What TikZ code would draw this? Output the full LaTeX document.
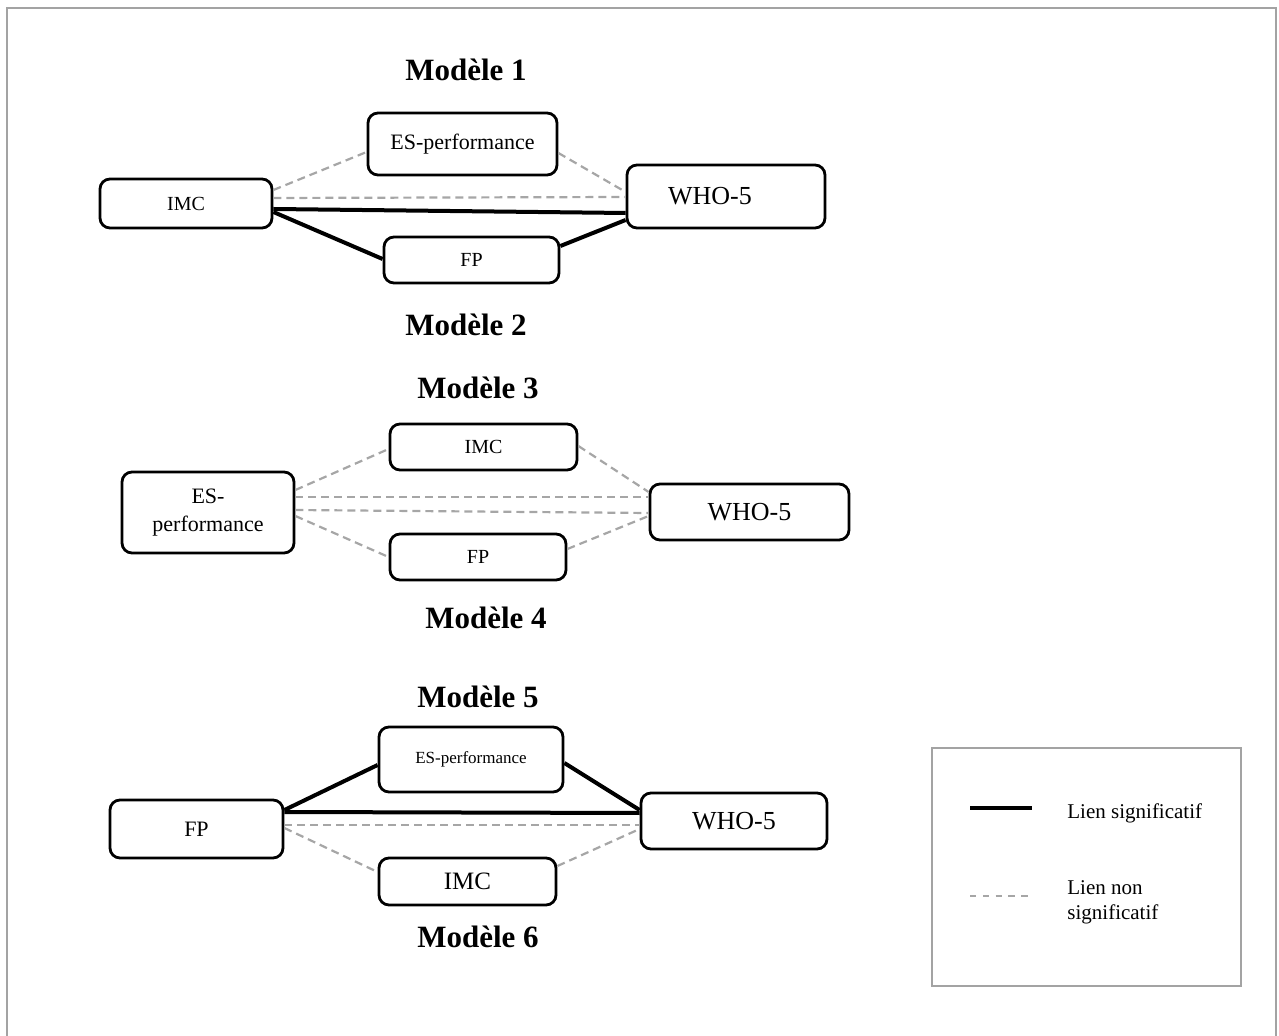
\documentclass[tikz,border=0pt]{standalone}
\usepackage{fontspec}
\setmainfont{Liberation Serif}
\usetikzlibrary{calc}
\definecolor{lgray}{HTML}{A6A6A6}
\definecolor{bgray}{HTML}{A3A3A3}
\newcommand\myfs[2]{\fontsize{#1}{#2}\selectfont}
\begin{document}
\begin{tikzpicture}[x=0.5pt,y=-0.5pt,
  box/.style={draw=black, line width=1.4pt, rounded corners=5pt, inner sep=0pt, align=center},
  sig/.style={line width=2pt, black},
  nsig/.style={line width=1.1pt, lgray, dash pattern=on 4pt off 2.5pt},
  ttl/.style={font=\myfs{15.5}{18}\bfseries, inner sep=0pt},
  lgtxt/.style={anchor=west, inner sep=0pt, align=left, font=\myfs{10.5}{12.5}}]
\useasboundingbox (0,0) rectangle (1279,1036);
% outer frame
\draw[bgray, line width=1.3pt] (7,1040) -- (7,8) -- (1276,8) -- (1276,1040);

% titles
\node[ttl] (t1) at (466,70) {Modèle 1};
\node[ttl] (t2) at (466,325) {Modèle 2};
\node[ttl] (t3) at (478,388) {Modèle 3};
\node[ttl] (t4) at (486,618) {Modèle 4};
\node[ttl] (t5) at (478,697) {Modèle 5};
\node[ttl] (t6) at (478,937) {Modèle 6};

% Model 1
\node[box, minimum width=94.5pt, minimum height=31pt, font=\myfs{11}{13}] (m1es) at (462.5,144) {ES-performance};
\node[box, minimum width=86pt, minimum height=24.5pt, font=\myfs{10}{12}] (m1imc) at (186,203.5) {IMC};
\node[box, minimum width=99pt, minimum height=31.5pt, font=\myfs{13}{15}] (m1who) at (726,196.5) {\hspace*{-16pt}WHO-5};
\node[box, minimum width=87.5pt, minimum height=23pt, font=\myfs{10}{12}] (m1fp) at (471.5,260) {FP};
\draw[nsig] ($(m1imc.east)+(0,-13.5)$) -- ($(m1es.west)+(0,8)$);
\draw[nsig] ($(m1es.east)+(0,9)$) -- ($(m1who.west)+(0,-4.5)$);
\draw[nsig] ($(m1imc.east)+(0,-5.5)$) -- ($(m1who.west)+(0,0.5)$);
\draw[sig] ($(m1imc.east)+(0,5.5)$) -- ($(m1who.west)+(0,16.5)$);
\draw[sig] ($(m1imc.east)+(0,8.5)$) -- ($(m1fp.west)+(0,-1)$);
\draw[sig] ($(m1fp.east)+(0,-14)$) -- ($(m1who.west)+(0,23.5)$);

% Model 3
\node[box, minimum width=93.5pt, minimum height=23pt, font=\myfs{10}{12}] (m3imc) at (483.5,447) {IMC};
\node[box, minimum width=86pt, minimum height=40.5pt, font=\myfs{11}{14}] (m3es) at (208,512.5) {ES-\\performance};
\node[box, minimum width=99.5pt, minimum height=28pt, font=\myfs{13}{15}] (m3who) at (749.5,512) {WHO-5};
\node[box, minimum width=88pt, minimum height=23pt, font=\myfs{10}{12}] (m3fp) at (478,557) {FP};
\draw[nsig] ($(m3es.east)+(0,-22.5)$) -- ($(m3imc.west)+(0,2)$);
\draw[nsig] ($(m3imc.east)+(0,-1)$) -- ($(m3who.west)+(0,-20)$);
\draw[nsig] ($(m3es.east)+(0,-15.5)$) -- ($(m3who.west)+(0,-15)$);
\draw[nsig] ($(m3es.east)+(0,-2.5)$) -- ($(m3who.west)+(0,1)$);
\draw[nsig] ($(m3es.east)+(0,3.5)$) -- ($(m3fp.west)+(0,0)$);
\draw[nsig] ($(m3fp.east)+(0,-8)$) -- ($(m3who.west)+(0,4)$);

% Model 5
\node[box, minimum width=92pt, minimum height=32.5pt, font=\myfs{8.5}{10}] (m5es) at (471,759.5) {ES-performance};
\node[box, minimum width=86.5pt, minimum height=29pt, font=\myfs{11}{13}] (m5fp) at (196.5,829) {FP};
\node[box, minimum width=93pt, minimum height=28pt, font=\myfs{13}{15}] (m5who) at (734,821) {WHO-5};
\node[box, minimum width=88.5pt, minimum height=23.5pt, font=\myfs{12.5}{15}] (m5imc) at (467.5,881.5) {IMC};
\draw[sig] ($(m5fp.east)+(0,-19)$) -- ($(m5es.west)+(0,5.5)$);
\draw[sig] ($(m5es.east)+(0,3.5)$) -- ($(m5who.west)+(0,-11)$);
\draw[sig] ($(m5fp.east)+(0,-17)$) -- ($(m5who.west)+(0,-8)$);
\draw[nsig] ($(m5fp.east)+(0,-4)$) -- ($(m5who.west)+(0,4)$);
\draw[nsig] ($(m5fp.east)+(0,-1)$) -- ($(m5imc.west)+(0,-9.5)$);
\draw[nsig] ($(m5imc.east)+(0,-15.5)$) -- ($(m5who.west)+(0,8)$);

% Legend
\node[draw=bgray, line width=0.8pt, minimum width=154.5pt, minimum height=119pt, inner sep=0pt] (leg) at (1086.5,867) {};
\coordinate (ls1) at (970,808);
\coordinate (ls2) at (1032,808);
\coordinate (ln1) at (970,896);
\coordinate (ln2) at (1032,896);
\draw[line width=2.2pt, black] (ls1) -- (ls2);
\draw[line width=1pt, lgray, dash pattern=on 3.2pt off 3.2pt] (ln1) -- (ln2);
\node[lgtxt] (lt1) at (1067,813) {Lien significatif};
\node[lgtxt] (lt2) at (1067,902) {Lien non\\significatif};
\end{tikzpicture}
\end{document}
